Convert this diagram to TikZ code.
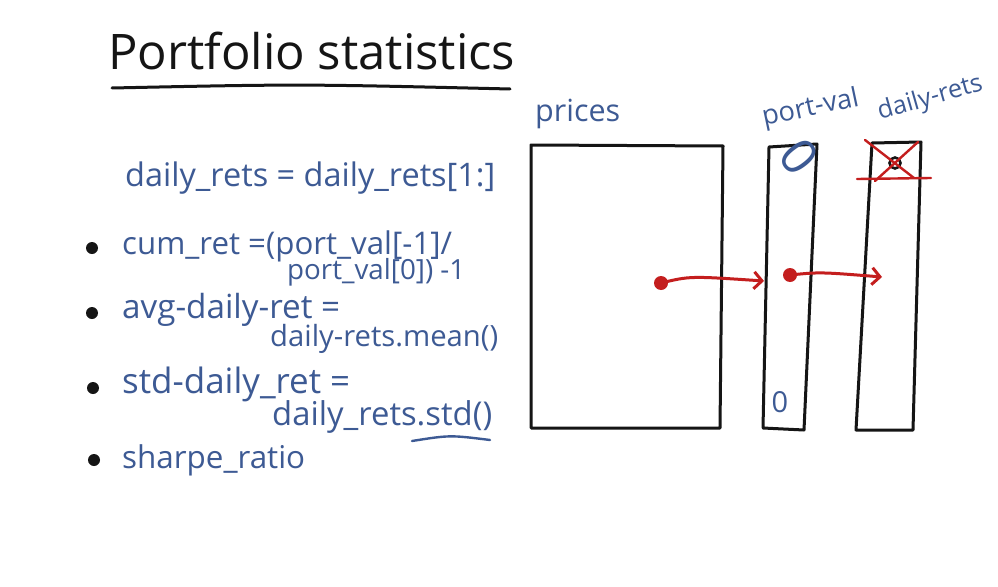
\documentclass[tikz,border=0pt]{standalone}
\usepackage{fontspec}
\setmainfont{Open Sans}
\usepackage{graphicx}
\usetikzlibrary{arrows.meta}
\definecolor{ink}{HTML}{3D5A94}
\definecolor{redink}{HTML}{C41E1E}
\definecolor{blk}{HTML}{151515}
\newcommand{\fitto}[2]{\resizebox{#1pt}{!}{#2}}
\newcommand{\fith}[2]{\resizebox{!}{#1pt}{#2}}
\begin{document}
\begin{tikzpicture}[x=1pt,y=-1pt,
  bluetxt/.style={text=ink, inner sep=0pt, anchor=base west},
  blacktxt/.style={text=blk, inner sep=0pt, anchor=base west},
  blackline/.style={draw=blk, line width=3pt, line cap=round, line join=round},
  redline/.style={draw=redink, line width=3pt, line cap=round},
  redarrow/.style={redline, -{Straight Barb[length=8pt,width=17pt,line width=3pt]}},
  reddot/.style={circle, fill=redink, minimum size=14pt, inner sep=0pt},
  bulletdot/.style={circle, fill=blk, minimum size=12pt, inner sep=0pt},
  inkline/.style={draw=ink, line width=2.4pt, line cap=round},
  ]
\fill[white] (0,0) rectangle (998,586);
\useasboundingbox (0,0) rectangle (998,586);

% title
\node[blacktxt] (title) at (108,70) {\fitto{407}{Portfolio statistics}};
\draw[blackline] (112,88) .. controls (300,84) .. (510,89);

% left formulas
\node[bluetxt] (l1) at (125,186) {\fitto{370}{daily\_rets = daily\_rets[1:]}};

\node[bulletdot] (b1) at (92,248) {};
\node[bulletdot] (b2) at (92,313) {};
\node[bulletdot] (b3) at (93,388) {};
\node[bulletdot] (b4) at (94,460) {};

\node[bluetxt] (cum1) at (122,254) {\fitto{330}{cum\_ret =(port\_val[-1]/}};
\node[bluetxt] (cum2) at (287,279) {\fitto{178}{port\_val[0]) -1}};
\node[bluetxt] (avg1) at (122,318) {\fitto{218}{avg-daily-ret =}};
\node[bluetxt] (avg2) at (270,346) {\fitto{228}{daily-rets.mean()}};
\node[bluetxt] (std1) at (122,393) {\fitto{228}{std-daily\_ret =}};
\node[bluetxt] (std2) at (272,425) {\fitto{220}{daily\_rets.std()}};
\draw[inkline] (412,441) .. controls (450,435) .. (490,440);
\node[bluetxt] (sh) at (122,468) {\fitto{183}{sharpe\_ratio}};

% right side labels
\node[bluetxt] (lp) at (535,121) {\fitto{85}{prices}};
\node[bluetxt, rotate=12] (lpv) at (764,126) {\fitto{98}{port-val}};
\node[bluetxt, rotate=16] (ldr) at (880,120) {\fitto{108}{daily-rets}};

% prices table
\draw[blackline] (531,145) -- (723,146) -- (720,428) -- (531,428) -- cycle;
% port-val column
\draw[blackline] (769,147) -- (817,144) -- (804,430) -- (763,428) -- cycle;
% daily-rets column
\draw[blackline] (872,143) -- (921,142) -- (913,430) -- (856,430) -- cycle;

% values
\node[text=ink, inner sep=0pt, rotate=-52] (z1) at (799,157) {\fith{36}{0}};
\node[text=ink, inner sep=0pt] (z2) at (780,402) {\fith{21}{0}};

% removed first daily return
\draw[blk, line width=2.6pt] (895,163) circle (5.5);
\draw[redline, line width=2.4pt] (865,140) -- (914,178);
\draw[redline, line width=2.4pt] (918,142) -- (875,181);
\draw[redline, line width=2.4pt] (857,179) -- (931,178);

% arrows
\node[reddot] (d1) at (661,283) {};
\coordinate (e1) at (764,281);
\draw[redarrow] (d1.center) .. controls (690,276) .. (e1);
\node[reddot] (d2) at (790,275) {};
\coordinate (e2) at (882,277);
\draw[redarrow] (d2.center) .. controls (820,272) .. (e2);
\end{tikzpicture}
\end{document}
